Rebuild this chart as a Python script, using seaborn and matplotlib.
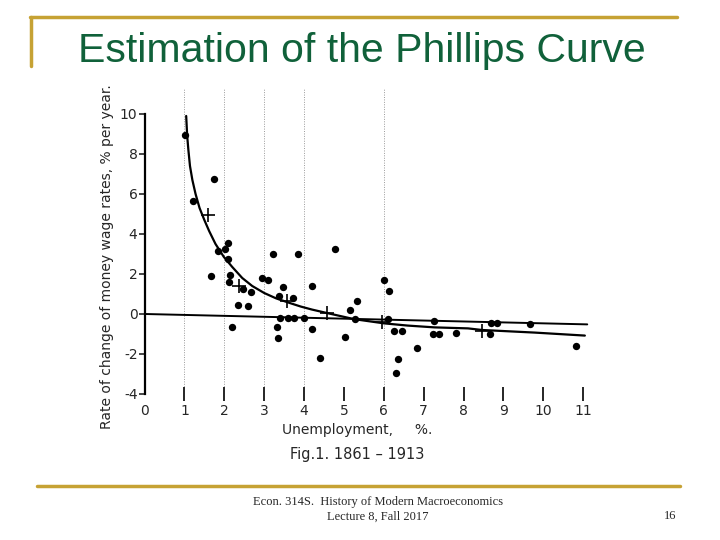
import matplotlib
matplotlib.use("Agg")
import matplotlib.pyplot as plt
import seaborn as sns
import pandas as pd
from matplotlib.lines import Line2D

# observed annual points, 1861-1913
unemp = [1.01, 1.21, 1.73, 1.84, 2.03, 2.09, 2.09, 3.22, 3.84, 4.78,
         1.66, 2.14, 2.13, 2.47, 2.68, 2.34, 2.59, 2.19, 2.95, 3.09,
         3.48, 3.36, 3.72, 3.40, 3.60, 3.75, 3.99, 3.32, 3.35, 4.20,
         4.19, 4.40, 5.03, 5.14, 5.33, 5.28, 6.01, 6.13, 6.11, 6.25,
         6.45, 6.36, 6.30, 6.82, 7.26, 7.23, 7.39, 7.80, 8.69, 8.84,
         8.67, 9.66, 10.81]
wage = [8.95, 5.63, 6.77, 3.17, 3.25, 3.55, 2.77, 2.98, 3.02, 3.23,
        1.88, 1.95, 1.60, 1.27, 1.12, 0.43, 0.42, -0.63, 1.82, 1.70,
        1.37, 0.88, 0.82, -0.18, -0.18, -0.18, -0.18, -0.63, -1.18, 1.42,
        -0.75, -2.20, -1.17, 0.20, 0.67, -0.26, 1.68, 1.13, -0.27, -0.83,
        -0.83, -2.25, -2.97, -1.70, -0.35, -0.98, -0.98, -0.97, -0.45, -0.45,
        -1.02, -0.48, -1.60]

# group averages (crosses)
cross_u = [1.60, 2.38, 3.57, 4.57, 5.95, 8.46]
cross_w = [4.95, 1.42, 0.65, 0.05, -0.40, -0.83]

# fitted curve
curve_u = [1.045, 1.07, 1.10, 1.14, 1.20, 1.28, 1.38, 1.50, 1.62, 1.78,
           1.99, 2.20, 2.45, 2.70, 3.00, 3.30, 3.67, 3.92, 4.20, 4.57,
           5.26, 6.01, 6.60, 7.27, 8.11, 8.46, 9.78, 11.04]
curve_w = [9.9, 8.9, 8.2, 7.4, 6.7, 6.0, 5.3, 4.7, 4.15, 3.5,
           2.85, 2.35, 1.8, 1.4, 1.05, 0.78, 0.53, 0.37, 0.22, 0.05,
           -0.26, -0.47, -0.58, -0.67, -0.72, -0.80, -0.93, -1.08]

# straight reference line
line_u = [0.0, 11.1]
line_w = [0.0, -0.52]

grid_u = [1, 2, 3, 4, 6]
xticks = list(range(0, 12))
yticks = [-4, -2, 0, 2, 4, 6, 8, 10]

sns.set_style("white")
plt.rcParams["font.family"] = ["DejaVu Sans"]
plt.rcParams["axes.unicode_minus"] = False

GOLD = "#c6a234"
GREEN = "#10613a"

fig = plt.figure(figsize=(7.2, 5.4), dpi=100)
ax = fig.add_axes([0.2007, 0.2704, 0.626, 0.5667])

for g in grid_u:
    ax.axvline(g, color="#9a9a9a", lw=0.7, ls=(0, (1, 1.5)), zorder=0)

pts = pd.DataFrame({"u": unemp, "w": wage})
sns.scatterplot(data=pts, x="u", y="w", ax=ax, color="black", s=28,
                edgecolor="black", linewidth=0, zorder=3)

crv = pd.DataFrame({"u": curve_u, "w": curve_w})
sns.lineplot(data=crv, x="u", y="w", ax=ax, color="black", lw=1.6,
             sort=False, estimator=None, zorder=2)
lin = pd.DataFrame({"u": line_u, "w": line_w})
sns.lineplot(data=lin, x="u", y="w", ax=ax, color="black", lw=1.4,
             sort=False, estimator=None, zorder=2)

ax.scatter(cross_u, cross_w, marker="+", s=110, color="black",
           linewidths=1.2, zorder=4)

ax.set_xlim(0, 11.3)
ax.set_ylim(-4, 11.3)
ax.set_xticks(xticks)
ax.set_yticks(yticks)
ax.set_xlabel("")
ax.set_ylabel("")

for side in ["top", "right", "bottom"]:
    ax.spines[side].set_visible(False)
ax.spines["left"].set_bounds(-4, 10)
ax.spines["left"].set_linewidth(1.6)
ax.spines["left"].set_color("black")

ax.tick_params(axis="y", direction="out", length=4, width=1.2,
               labelsize=10, pad=1, left=True)
ax.tick_params(axis="x", direction="inout", length=10, width=1.4,
               labelsize=10, pad=2, bottom=True)
ax.xaxis.get_major_ticks()[0].tick1line.set_visible(False)

fig.text(107 / 720, 1 - 257 / 540,
         "Rate of change of money wage rates, % per year.",
         rotation=90, ha="center", va="center", fontsize=10)
fig.text(357 / 720, 1 - 430 / 540, "Unemployment,     %.",
         ha="center", va="center", fontsize=10)
fig.text(357 / 720, 1 - 455 / 540, "Fig.1. 1861 \u2013 1913",
         ha="center", va="center", fontsize=10.5)

# slide decorations
fig.add_artist(Line2D([30 / 720, 677 / 720], [1 - 17 / 540, 1 - 17 / 540],
                      color=GOLD, lw=2.5, transform=fig.transFigure))
fig.add_artist(Line2D([31 / 720, 31 / 720], [1 - 17 / 540, 1 - 66 / 540],
                      color=GOLD, lw=2.5, transform=fig.transFigure))
fig.add_artist(Line2D([37 / 720, 680 / 720], [1 - 486 / 540, 1 - 486 / 540],
                      color=GOLD, lw=2.5, transform=fig.transFigure))

fig.text(362 / 720, 1 - 51 / 540, "Estimation of the Phillips Curve",
         ha="center", va="center", fontsize=29.5, color=GREEN,
         family=["Liberation Sans", "DejaVu Sans"])

fig.text(378 / 720, 1 - 502 / 540, "Econ. 314S.  History of Modern Macroeconomics",
         ha="center", va="center", fontsize=9,
         family=["Liberation Serif", "DejaVu Serif"])
fig.text(378 / 720, 1 - 517 / 540, "Lecture 8, Fall 2017",
         ha="center", va="center", fontsize=9,
         family=["Liberation Serif", "DejaVu Serif"])
fig.text(670 / 720, 1 - 516 / 540, "16", ha="center", va="center", fontsize=9,
         family=["Liberation Serif", "DejaVu Serif"])

fig.savefig("out.png", dpi=100)
